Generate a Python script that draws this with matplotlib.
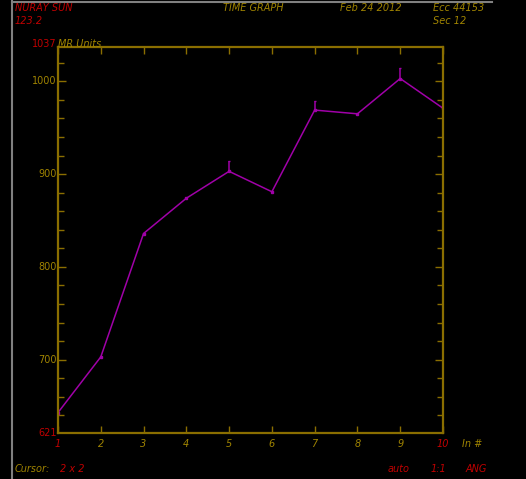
import matplotlib
matplotlib.use("Agg")
import matplotlib.pyplot as plt
from matplotlib.lines import Line2D
from matplotlib.ticker import MultipleLocator

# Run numbers and measured values
runs = [1, 2, 3, 4, 5, 6, 7, 8, 9, 10]
values = [643, 703, 836, 874, 903, 881, 969, 965, 1003, 971]
err_up = [0, 0, 0, 0, 11, 0, 10, 0, 11, 0]
y_min, y_max = 621, 1037
y_major = [700, 800, 900, 1000]

BG = "black"
AXIS = "#8a6e00"
TXT_Y = "#a08400"
TXT_R = "#c00000"
LINE = "#a000a8"
GRAY = "#808080"

fig = plt.figure(figsize=(5.26, 4.79), dpi=100, facecolor=BG)
ax = fig.add_axes([58 / 526, 1 - 433 / 479, 385 / 526, 386 / 479], facecolor=BG)

ax.plot(runs, values, color=LINE, lw=1.1, marker="s", ms=2, mfc=LINE, mec=LINE)
ax.errorbar(runs, values, yerr=[[0] * len(err_up), err_up], fmt="none",
            ecolor=LINE, elinewidth=1.1, capsize=1.0, capthick=1.0)

ax.set_xlim(runs[0], runs[-1])
ax.set_ylim(y_min, y_max)

for s in ax.spines.values():
    s.set_color(AXIS)
    s.set_linewidth(1.6)

ax.xaxis.set_major_locator(MultipleLocator(1))
ax.yaxis.set_major_locator(MultipleLocator(100))
ax.yaxis.set_minor_locator(MultipleLocator(20))
ax.tick_params(axis="both", which="both", direction="in", color=AXIS,
               top=True, right=True, labelbottom=False, labelleft=False)
ax.tick_params(axis="y", which="major", length=6, width=1)
ax.tick_params(axis="y", which="minor", length=4, width=1)
ax.tick_params(axis="x", which="major", length=5, width=1)

fs = 7
fam = "DejaVu Sans"
# x tick labels
for r in runs:
    col = TXT_R if r in (runs[0], runs[-1]) else TXT_Y
    ax.annotate(str(r), xy=(r, y_min), xycoords="data", xytext=(0, -8),
                textcoords="offset points", ha="center", va="center",
                color=col, fontsize=fs, style="italic", family=fam)
ax.annotate("In #", xy=(runs[-1], y_min), xytext=(14, -8), textcoords="offset points",
            ha="left", va="center", color=TXT_Y, fontsize=fs, style="italic", family=fam)

# y tick labels
for v in y_major:
    ax.annotate(str(v), xy=(runs[0], v), xytext=(-1, 0), textcoords="offset points",
                ha="right", va="center", color=TXT_Y, fontsize=fs, family=fam)
ax.annotate(str(y_min), xy=(runs[0], y_min), xytext=(-1, 0), textcoords="offset points",
            ha="right", va="center", color=TXT_R, fontsize=fs, family=fam)
ax.annotate(str(y_max), xy=(runs[0], y_max), xytext=(-1, 2), textcoords="offset points",
            ha="right", va="center", color=TXT_R, fontsize=fs, family=fam)
ax.annotate("MR Units", xy=(runs[0], y_max), xytext=(0, 2), textcoords="offset points",
            ha="left", va="center", color=TXT_Y, fontsize=fs, style="italic", family=fam)

# header and footer text
def ftext(x, y, s, c):
    fig.text(x / 526, 1 - y / 479, s, color=c, fontsize=fs, style="italic",
             family=fam, ha="left", va="center")

ftext(15, 8, "NURAY SUN", TXT_R)
ftext(15, 21, "123.2", TXT_R)
ftext(223, 8, "TIME GRAPH", TXT_Y)
ftext(340, 8, "Feb 24 2012", TXT_Y)
ftext(433, 8, "Ecc 44153", TXT_Y)
ftext(433, 21, "Sec 12", TXT_Y)
ftext(15, 469, "Cursor:", TXT_Y)
ftext(60, 469, "2 x 2", TXT_R)
ftext(388, 469, "auto", TXT_R)
ftext(431, 469, "1:1", TXT_R)
ftext(466, 469, "ANG", TXT_R)

# window frame lines
fig.add_artist(Line2D([12 / 526, 12 / 526], [0, 1], color=GRAY, lw=1.5,
                      transform=fig.transFigure))
fig.add_artist(Line2D([12 / 526, 492 / 526], [1 - 1.5 / 479, 1 - 1.5 / 479], color=GRAY,
                      lw=1.5, transform=fig.transFigure))

fig.savefig("out.png", dpi=100, facecolor=BG)
